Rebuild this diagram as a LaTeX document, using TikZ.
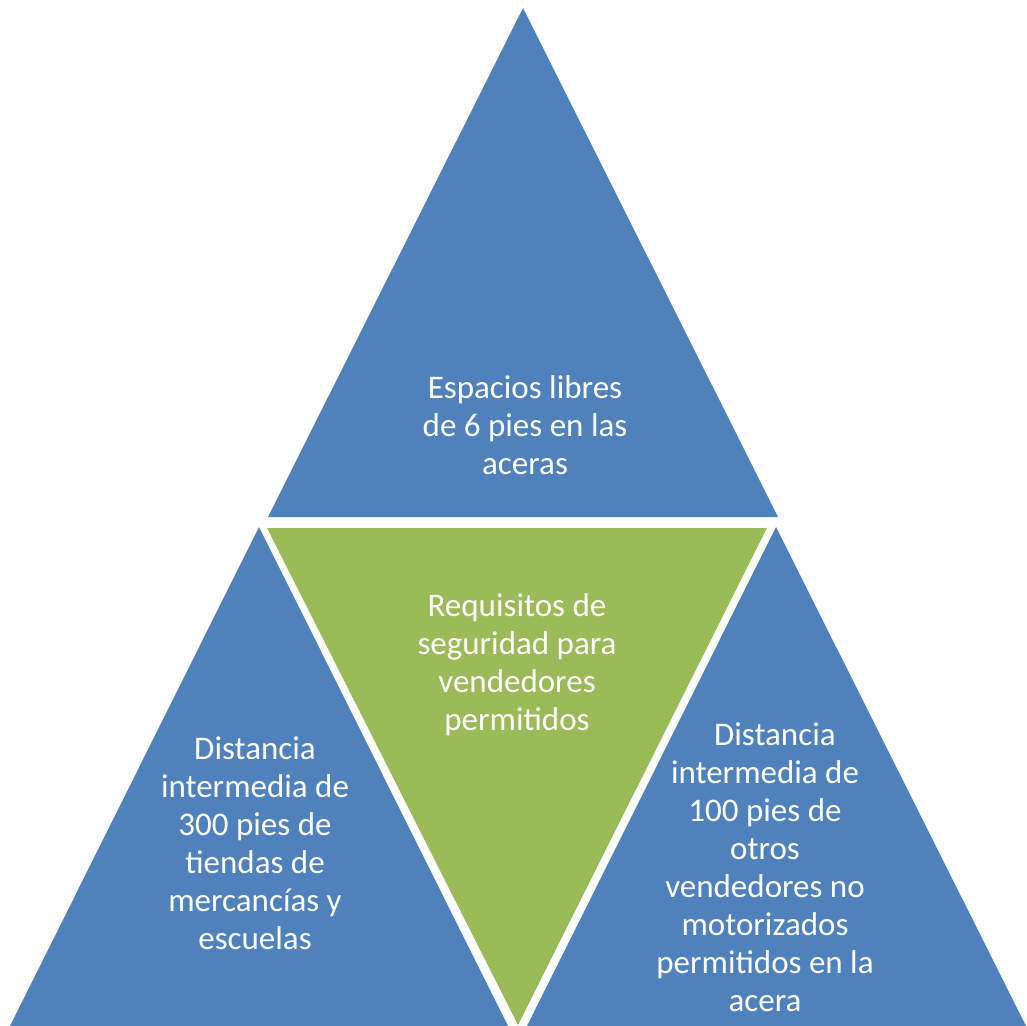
\documentclass[tikz,border=0pt]{standalone}
\usepackage{fontspec}
\setmainfont{Carlito}
\definecolor{tribl}{HTML}{4F81BD}
\definecolor{trigr}{HTML}{9BBB59}
\tikzset{
	label/.style={text=white, align=center, font=\fontsize{33bp}{38bp}\selectfont, inner sep=0pt}
}
\begin{document}
\begin{tikzpicture}[x=1bp,y=-1bp]
	\useasboundingbox (0,0) rectangle (1027,1026);
	\fill[tribl] (523,8) -- (778,517) -- (268,517) -- cycle;
	\fill[trigr] (267,528) -- (767,528) -- (518,1025) -- cycle;
	\fill[tribl] (259,527) -- (508,1026) -- (10,1026) -- cycle;
	\fill[tribl] (776,527) -- (1026,1026) -- (527,1026) -- cycle;
	\node[label] (top) at (525,425) {Espacios libres\\de 6 pies en las\\aceras};
	\node[label] (mid) at (517,665) {Requisitos de\\seguridad para\\vendedores\\permitidos};
	\node[label] (left) at (255,843) {Distancia\\intermedia de\\300 pies de\\tiendas de\\mercancías y\\escuelas};
	\node[label] (right) at (765,867) {\hspace{0.6em}Distancia\\intermedia de\\100 pies de\\otros\\vendedores no\\motorizados\\permitidos en la\\acera};
\end{tikzpicture}
\end{document}
